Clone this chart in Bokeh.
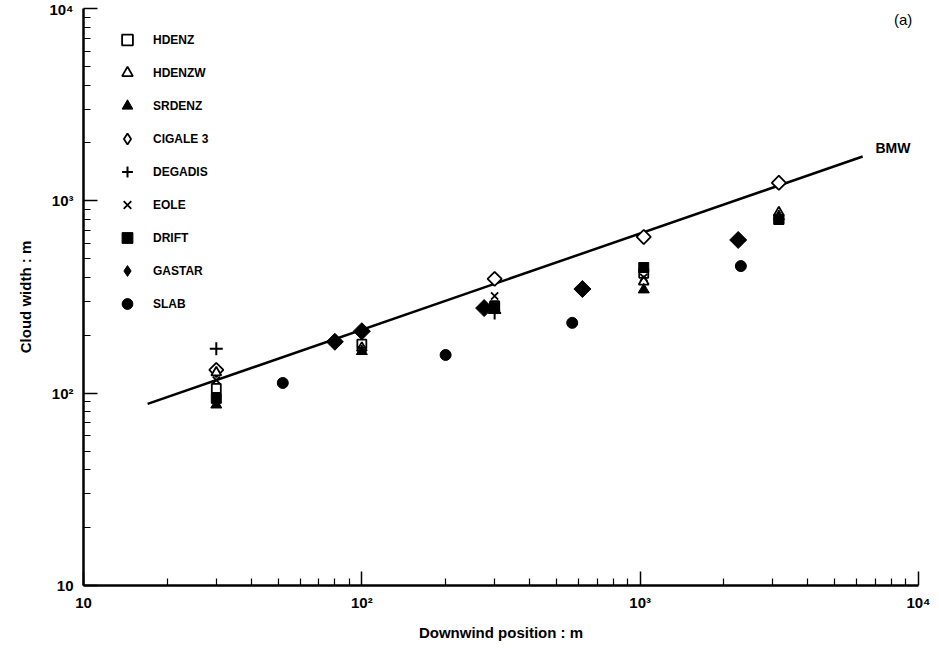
import math
from bokeh.plotting import figure
from bokeh.models import FixedTicker, Legend, LegendItem, Label
from bokeh.embed import file_html
from bokeh.resources import INLINE

# ---- data ----
hdenz_x = [30, 100, 300, 1030, 3150]
hdenz_y = [106, 180, 285, 420, 800]
hdenzw_x = [30, 100, 300, 1030, 3150]
hdenzw_y = [128, 172, 275, 380, 870]
srdenz_x = [30, 100, 300, 1030, 3150]
srdenz_y = [87, 165, 270, 345, 830]
cigale_x = [30, 300, 1030, 3150]
cigale_y = [132, 393, 649, 1241]
degadis_x = [30, 300]
degadis_y = [170, 261]
eole_x = [30, 100, 300, 1030]
eole_y = [117, 168, 320, 400]
drift_x = [30, 300, 1030, 3150]
drift_y = [94, 280, 450, 800]
gastar_x = [80, 100, 275, 620, 2250]
gastar_y = [185, 210, 277, 348, 626]
slab_x = [52, 200, 570, 2300]
slab_y = [113, 158, 232, 458]
bmw_x = [17, 6300]
bmw_y = [88, 1700]

major_ticks = [10, 100, 1000, 10000]
tick_labels = {10: "10", 100: "10²", 1000: "10³", 10000: "10⁴"}
minor_ticks = [m * 10 ** k for k in (1, 2, 3) for m in range(2, 10)]

FONT = "Liberation Sans"

p = figure(width=939, height=648, x_axis_type="log", y_axis_type="log",
           x_range=(10, 10000), y_range=(10, 10000),
           output_backend="svg", toolbar_location=None,
           min_border_left=83, min_border_right=21, min_border_top=8,
           min_border_bottom=63)
p.outline_line_color = None
p.xgrid.visible = False
p.ygrid.visible = False
p.background_fill_color = "white"

for ax in (p.xaxis[0], p.yaxis[0]):
    ax.ticker = FixedTicker(ticks=major_ticks, minor_ticks=minor_ticks)
    ax.major_label_overrides = tick_labels
    ax.axis_line_width = 2.5
    ax.axis_line_color = "black"
    ax.major_tick_in = 14
    ax.major_tick_out = 0
    ax.minor_tick_in = 7
    ax.minor_tick_out = 0
    ax.major_tick_line_width = 1.5
    ax.minor_tick_line_width = 1.2
    ax.major_label_text_font = FONT
    ax.major_label_text_font_size = "15px"
    ax.major_label_text_font_style = "bold"
    ax.major_label_text_color = "black"
    ax.axis_label_text_font = FONT
    ax.axis_label_text_font_size = "15px"
    ax.axis_label_text_font_style = "bold"
    ax.axis_label_text_color = "black"

p.xaxis.axis_label = "Downwind position : m"
p.yaxis.axis_label = "Cloud width : m"
p.xaxis.major_label_standoff = 8
p.yaxis.major_label_standoff = 10
p.xaxis.axis_label_standoff = 10
p.yaxis.axis_label_standoff = 12

# BMW line
p.line(bmw_x, bmw_y, line_color="black", line_width=2.5)

lw = 1.8
rot = math.pi / 4

# legend keys for the two diamond series (legend glyphs are drawn unrotated);
# drawn first so that the rotated squares below cover them completely
k_cig = p.scatter(cigale_x, cigale_y, marker="diamond", size=12,
                  fill_color="white", line_color="black", line_width=lw)
k_gas = p.scatter(gastar_x, gastar_y, marker="diamond", size=14,
                  fill_color="black", line_color="black")

r_cig = p.scatter(cigale_x, cigale_y, marker="square", angle=rot, size=10,
                  fill_color="white", line_color="black", line_width=lw)
r_hd = p.scatter(hdenz_x, hdenz_y, marker="square", size=9,
                 fill_color="white", line_color="black", line_width=lw)
r_hdw = p.scatter(hdenzw_x, hdenzw_y, marker="triangle", size=10,
                  fill_color="white", line_color="black", line_width=lw)
r_sr = p.scatter(srdenz_x, srdenz_y, marker="triangle", size=11,
                 fill_color="black", line_color="black")
r_deg = p.scatter(degadis_x, degadis_y, marker="cross", size=13,
                  line_color="black", line_width=2)
r_eole = p.scatter(eole_x, eole_y, marker="x", size=10,
                   line_color="black", line_width=1.8)
r_drift = p.scatter(drift_x, drift_y, marker="square", size=10,
                    fill_color="black", line_color="black")
r_gas = p.scatter(gastar_x, gastar_y, marker="square", angle=rot, size=12,
                  fill_color="black", line_color="black")
r_slab = p.scatter(slab_x, slab_y, marker="circle", size=11,
                   fill_color="black", line_color="black")

items = [
    LegendItem(label="HDENZ", renderers=[r_hd]),
    LegendItem(label="HDENZW", renderers=[r_hdw]),
    LegendItem(label="SRDENZ", renderers=[r_sr]),
    LegendItem(label="CIGALE 3", renderers=[k_cig]),
    LegendItem(label="DEGADIS", renderers=[r_deg]),
    LegendItem(label="EOLE", renderers=[r_eole]),
    LegendItem(label="DRIFT", renderers=[r_drift]),
    LegendItem(label="GASTAR", renderers=[k_gas]),
    LegendItem(label="SLAB", renderers=[r_slab]),
]
legend = Legend(items=items, location=(30, 268), margin=0, padding=0,
                spacing=6, glyph_height=27, glyph_width=28, label_height=27,
                label_standoff=12, border_line_color=None,
                background_fill_alpha=0,
                label_text_font=FONT, label_text_font_size="12px",
                label_text_font_style="bold",
                label_text_color="black")
p.add_layout(legend, "center")

p.add_layout(Label(x=7000, y=1880, text="BMW", text_font=FONT,
                   text_font_size="14px", text_font_style="bold",
                   text_baseline="middle", text_color="black"))
p.add_layout(Label(x=9500, y=8800, text="(a)", text_font=FONT,
                   text_font_size="15px", text_baseline="middle",
                   text_align="right", text_color="black"))

open("out.html", "w").write(file_html(p, INLINE))
